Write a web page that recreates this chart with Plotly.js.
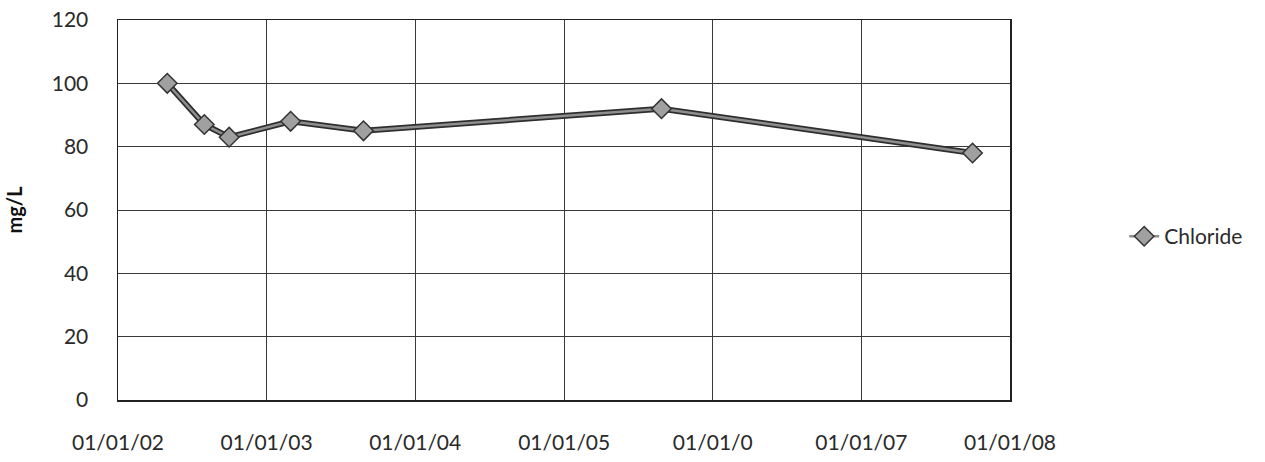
<!DOCTYPE html>
<html>
<head>
<meta charset="utf-8">
<script src="https://cdn.plot.ly/plotly-3.0.1.min.js"></script>
<style>html,body{margin:0;padding:0;background:#fff;}#chart{width:1265px;height:462px;}</style>
</head>
<body>
<div id="chart"></div>
<script>
// Data
const sampleDates = ['2002-05-02', '2002-08-01', '2002-10-01', '2003-03-01', '2003-08-27', '2005-08-28', '2007-10-01'];
const chloride = [100, 87, 83, 88, 85, 92, 78];
const seriesName = 'Chloride';

const xTickVals = ['2002-01-01', '2003-01-01', '2004-01-01', '2005-01-01', '2006-01-01', '2007-01-01', '2008-01-01'];
const xTickText = ['01/01/02', '01/01/03', '01/01/04', '01/01/05', '01/01/0', '01/01/07', '01/01/08'];
const yTickVals = [0, 20, 40, 60, 80, 100, 120];
const yTitle = 'mg/L';

const FONT = 'Lato, "Open Sans", sans-serif';

const traces = [
  {
    x: sampleDates, y: chloride, type: 'scatter', mode: 'lines',
    line: {color: '#2e2e2e', width: 6},
    showlegend: false, hoverinfo: 'skip'
  },
  {
    x: sampleDates, y: chloride, type: 'scatter', mode: 'lines+markers',
    name: seriesName,
    line: {color: '#8e8e8e', width: 2.5},
    marker: {symbol: 'diamond', size: 15, color: '#a0a0a0', line: {color: '#333', width: 1.5}}
  }
];

const layout = {
  width: 1265, height: 462,
  margin: {l: 118, r: 255, t: 20, b: 62},
  paper_bgcolor: '#fff', plot_bgcolor: '#fff',
  font: {family: FONT, size: 21, color: '#2a2a2a'},
  showlegend: true,
  legend: {x: 1.128, xanchor: 'left', y: 0.43, yanchor: 'middle', font: {family: FONT, size: 21, color: '#2a2a2a'}, bgcolor: 'rgba(0,0,0,0)'},
  xaxis: {
    type: 'date',
    range: ['2002-01-01', '2008-01-01'],
    tickmode: 'array', tickvals: xTickVals, ticktext: xTickText,
    showgrid: true, gridcolor: '#3a3a3a', gridwidth: 1,
    showline: true, linecolor: '#222', linewidth: 1.5, mirror: true,
    ticks: '', ticklabelstandoff: 23,
    zeroline: false,
    tickfont: {family: FONT, size: 21, color: '#2a2a2a'}
  },
  yaxis: {
    range: [0, 120],
    tickmode: 'array', tickvals: yTickVals,
    showgrid: true, gridcolor: '#3a3a3a', gridwidth: 1,
    showline: true, linecolor: '#222', linewidth: 1.5, mirror: true,
    ticks: '', ticklabelstandoff: 24,
    zeroline: false,
    tickfont: {family: FONT, size: 21, color: '#2a2a2a'},
    title: {text: yTitle, font: {family: FONT, size: 20, color: '#111', weight: 'bold'}, standoff: 24}
  }
};

Plotly.newPlot('chart', traces, layout, {displayModeBar: false, staticPlot: true});
</script>
</body>
</html>
